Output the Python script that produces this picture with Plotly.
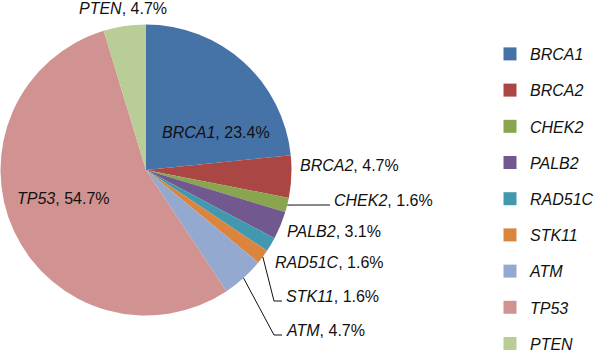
import math
import plotly.graph_objects as go

# ---- data ----
genes = ["BRCA1", "BRCA2", "CHEK2", "PALB2", "RAD51C", "STK11", "ATM", "TP53", "PTEN"]
percent = [23.4, 4.7, 1.6, 3.1, 1.6, 1.6, 4.7, 54.7, 4.7]
colors = ["#4572A7", "#AA4643", "#89A54E", "#71588F", "#4198AF",
          "#DB843D", "#93A9CF", "#D19392", "#B9CD96"]

# ---- layout helpers (pixel geometry of the 596x350 canvas) ----
W, H = 596, 350
CX, CY, R = 146, 170, 145.5        # pie centre / radius in pixels
# label placement: left edge x, centre y (pixels) and whether a leader line is drawn
label_place = {
    "BRCA1": (160, 132, False),
    "BRCA2": (298, 165, False),
    "CHEK2": (332, 200, True),
    "PALB2": (285, 232, False),
    "RAD51C": (273, 262, False),
    "STK11": (284, 296, True),
    "ATM": (284, 330, True),
    "TP53": (15, 198, False),
    "PTEN": (77, 9, False),
}
FONT = "Liberation Sans"
FS = 16
TXT = "#111111"


def px(x):
    return x / W


def py(y):
    return 1 - y / H


fig = go.Figure()
fig.add_trace(go.Pie(
    labels=genes, values=percent, sort=False, direction="clockwise", rotation=0,
    marker=dict(colors=colors, line=dict(width=0)),
    textinfo="none", hoverinfo="label+value", showlegend=False,
    domain=dict(x=[px(CX - R), px(CX + R)], y=[py(CY + R), py(CY - R)]),
))

# legend built from marker-only traces so the entry spacing can be controlled
for g, c in zip(genes, colors):
    fig.add_trace(go.Scatter(
        x=[None], y=[None], mode="markers", name=f"<i>{g}</i>", legendgroup=g,
        marker=dict(symbol="square", size=13, color=c),
        hoverinfo="skip",
    ))

total = sum(percent)
annotations = []
shapes = []
cum = 0.0
for g, v in zip(genes, percent):
    mid = (cum + v / 2) / total * 2 * math.pi
    cum += v
    lx, ly, line = label_place[g]
    annotations.append(dict(
        x=px(lx), y=py(ly), xref="paper", yref="paper", xanchor="left", yanchor="middle",
        text=f"<i>{g}</i>, {v:.1f}%", showarrow=False,
        font=dict(family=FONT, size=FS, color=TXT),
    ))
    if line:
        sx = CX + R * math.sin(mid)
        sy = CY - R * math.cos(mid)
        ey = ly + 5
        path = (f"M {px(sx)} {py(sy)} L {px(lx - 10)} {py(ey)} L {px(lx - 2)} {py(ey)}")
        shapes.append(dict(type="path", xref="paper", yref="paper", path=path,
                           line=dict(color=TXT, width=1)))

fig.update_layout(
    width=W, height=H, margin=dict(l=0, r=0, t=0, b=0, autoexpand=False),
    paper_bgcolor="white", plot_bgcolor="white",
    xaxis=dict(visible=False), yaxis=dict(visible=False),
    annotations=annotations, shapes=shapes,
    legend=dict(x=px(490), y=py(37), xref="container", yref="paper",
                xanchor="left", yanchor="top",
                font=dict(family=FONT, size=FS, color=TXT),
                tracegroupgap=12.4, traceorder="grouped", itemclick=False),
    showlegend=True,
)

fig.write_html("out.html", config={"displayModeBar": False},
               post_script="document.body.style.margin='0';")
